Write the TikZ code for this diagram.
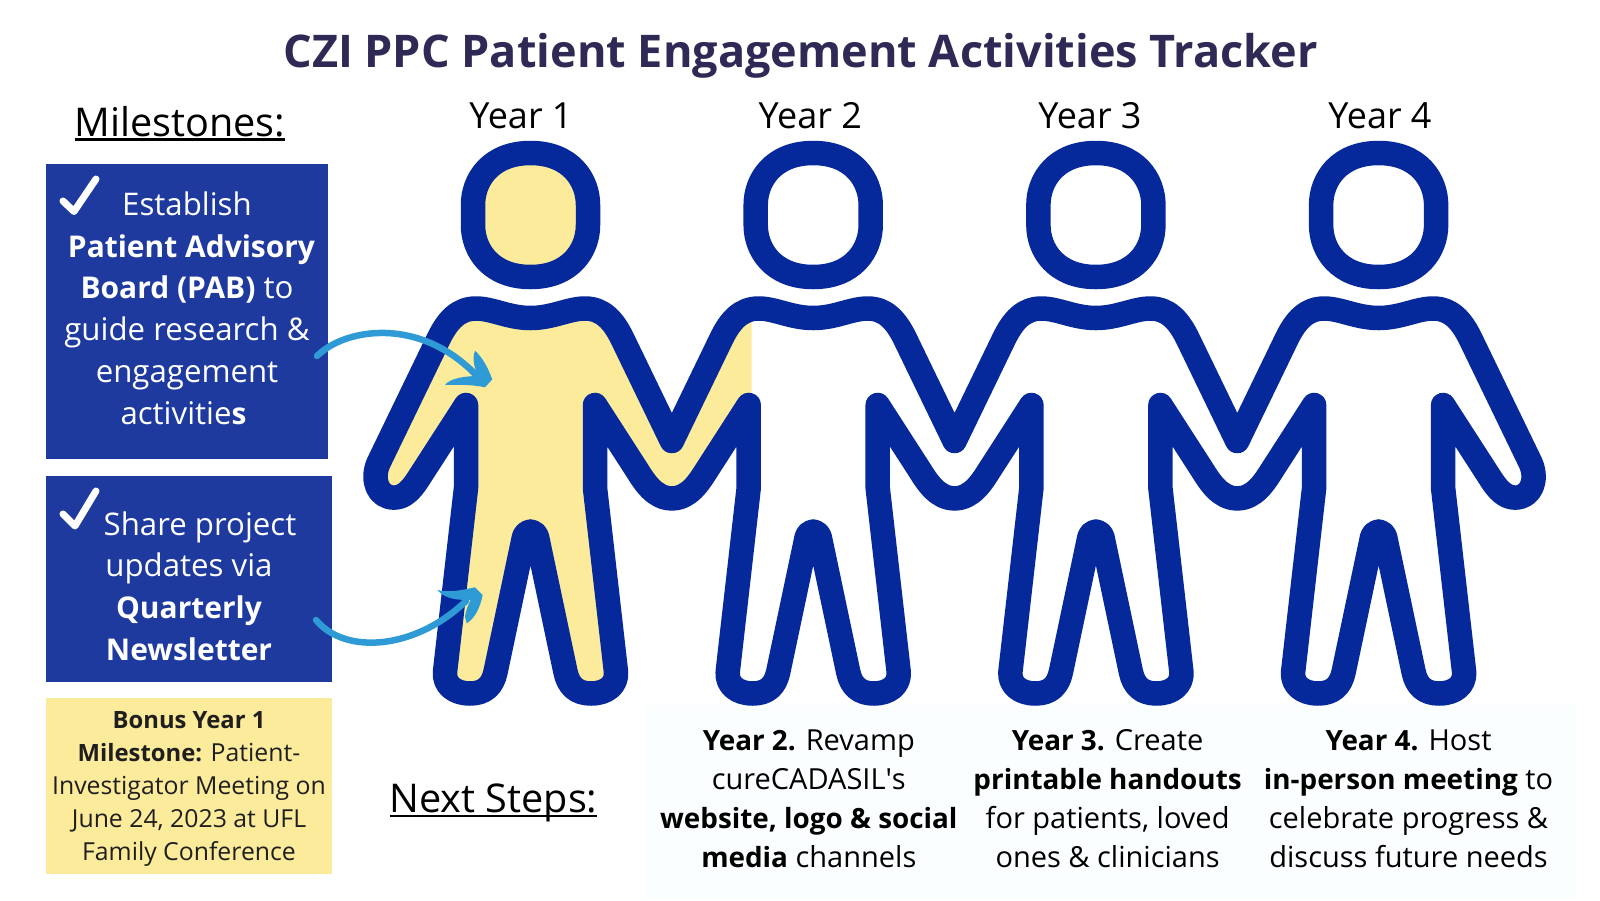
\documentclass[tikz,border=0pt]{standalone}
\usepackage{fontspec}
\setmainfont{Open Sans}[BoldFeatures={Scale=0.96}]
\usetikzlibrary{positioning}
\definecolor{figureblue}{HTML}{05289A}
\definecolor{boxblue}{HTML}{1E3A9F}
\definecolor{paleyellow}{HTML}{FBEB9B}
\definecolor{titleink}{HTML}{2F2A55}
\definecolor{arrowblue}{HTML}{2E9AD6}
\definecolor{palewhite}{HTML}{FAFEFE}
\newlength\ulwidth
\newcommand{\undertext}[1]{\settowidth{\ulwidth}{#1}#1\llap{\rule[-4.5pt]{\ulwidth}{2.4pt}}}
\newcommand{\headring}[1]{(#1,153) .. controls (#1+40,153) and (#1+57.5,180) .. (#1+57.5,205) -- (#1+57.5,225) .. controls (#1+57.5,250) and (#1+40,277) .. (#1,277) .. controls (#1-40,277) and (#1-57.5,250) .. (#1-57.5,225) -- (#1-57.5,205) .. controls (#1-57.5,180) and (#1-40,153) .. (#1,153) -- cycle}
\newcommand{\shouldertop}[1]{-- (#1-92.5,340) .. controls (#1-83,320) and (#1-72,308.5) .. (#1-54.5,308.5) .. controls (#1-38,308.5) and (#1-22,318) .. (#1,318) .. controls (#1+22,318) and (#1+38,308.5) .. (#1+54.5,308.5) .. controls (#1+72,308.5) and (#1+83,320) .. (#1+92.5,340) -- (#1+141.35,441)}
\newcommand{\legpair}[1]{-- (#1+64.5,405) -- (#1+64.5,488) -- (#1+85.5,672) .. controls (#1+86.5,685) and (#1+76,693.5) .. (#1+60.5,693.5) .. controls (#1+46,693.5) and (#1+38,686) .. (#1+35,672) -- (#1+6.5,537) .. controls (#1+5,533) and (#1+2,531.5) .. (#1,531.5) .. controls (#1-2,531.5) and (#1-5,533) .. (#1-6.5,537) -- (#1-35,672) .. controls (#1-38,686) and (#1-46,693.5) .. (#1-60.5,693.5) .. controls (#1-76,693.5) and (#1-86.5,685) .. (#1-85.5,672) -- (#1-64.5,488) -- (#1-64.5,405)}
\newcommand{\handdip}[1]{-- (#1-106.4,470) .. controls (#1-114,482) and (#1-124,498.4) .. (#1-141.35,498.4) .. controls (#1-158.7,498.4) and (#1-168.7,482) .. (#1-176.3,470)}
\newcommand{\chainoutline}{(378.5,463) \shouldertop{530.5} \shouldertop{813.2} \shouldertop{1095.9} \shouldertop{1378.6} -- (1530.6,463) .. controls (1538.1,480) and (1531.1,497.6) .. (1515.1,497.6) .. controls (1505.1,497.6) and (1498.1,490) .. (1491.5,480) \legpair{1378.6} \handdip{1378.6} \legpair{1095.9} \handdip{1095.9} \legpair{813.2} \handdip{813.2} \legpair{530.5} -- (417.6,480) .. controls (411,490) and (404,497.6) .. (394,497.6) .. controls (378,497.6) and (371,480) .. (378.5,463) -- cycle}
\tikzset{
  figureline/.style={draw=figureblue,line width=24.5pt,line join=round},
  milestonebox/.style={rectangle,inner sep=0pt,minimum width=#1},
  yearlabel/.style={font=\fontsize{36}{42}\selectfont,anchor=base,inner sep=0pt},
  headline/.style={font=\fontsize{39.6}{46}\selectfont,anchor=base,inner sep=0pt},
  boxtext/.style={text=white,align=center,inner sep=0pt,font=\fontsize{31.2}{41.8}\selectfont},
  stepstext/.style={text=black,align=center,inner sep=0pt,font=\fontsize{29}{39}\selectfont},
  tickmark/.style={draw=white,line width=7pt,line cap=round,line join=round},
  curvearrow/.style={draw=arrowblue,line width=6.5pt,line cap=round},
}
\begin{document}
\begin{tikzpicture}[x=1pt,y=-1pt]
\useasboundingbox (0,0) rectangle (1600,900);
\fill[palewhite] (645,705) rectangle (1575,900);
% yellow part, year 1 done
\begin{scope}
\clip (0,0) -- (751.7,0) -- (751.7,520) -- (672,520) -- (672,900) -- (0,900) -- cycle;
\fill[paleyellow] \chainoutline;
\end{scope}
\fill[paleyellow] \headring{530.5};
\draw[figureline] \chainoutline;
\foreach \cx in {530.5,813.2,1095.9,1378.6}
  \draw[figureline] \headring{\cx};
%
\node (title) at (800.5,67.5) [anchor=base,inner sep=0pt,text=titleink,font=\fontsize{46.9}{52}\selectfont\bfseries] {CZI PPC Patient Engagement Activities Tracker};
\node (milestones) at (180,136) [headline] {\undertext{Milestones:}};
\node (yearA) at (521,128.5) [yearlabel] {Year 1};
\node (yearB) at (810.3,128.5) [yearlabel] {Year 2};
\node (yearC) at (1090,128.5) [yearlabel] {Year 3};
\node (yearD) at (1380,128.5) [yearlabel] {Year 4};
%
\node (boxA) at (186.8,311.5) [milestonebox=281.5pt,minimum height=295pt,fill=boxblue] {};
\node (boxB) at (189,579) [milestonebox=286pt,minimum height=206pt,fill=boxblue] {};
\node (boxC) at (189,785.7) [milestonebox=286pt,minimum height=176pt,fill=paleyellow] {};
\node (textA) at (187,308) [boxtext] {Establish\\\hspace*{9pt}\textbf{Patient Advisory}\\\textbf{Board (PAB)} to\\guide research \&\\engagement\\activitie\textbf{s}\hspace*{7pt}};
\node (textB) at (189,586) [boxtext] {\hspace*{22pt}Share project\\updates via\\\textbf{Quarterly}\\\textbf{Newsletter}};
\node (textC) at (189,788.7) [align=center,inner sep=0pt,text=black!88,font=\fontsize{24.8}{33}\selectfont] {\textbf{Bonus Year 1}\\\textbf{Milestone:} Patient-\\Investigator Meeting on\\June 24, 2023 at UFL\\Family Conference};
\draw[tickmark] (63,201) -- (74,211.5) -- (96,179);
\draw[tickmark] (63,514) -- (75,526) -- (96,491);
%
\node (nextsteps) at (493.5,812.5) [headline] {\undertext{Next Steps:}};
\node (stepB) at (808.8,799) [stepstext] {\textbf{Year 2.} Revamp\\cureCADASIL\textquotesingle s\\\textbf{website, logo \& social}\\\textbf{media} channels};
\node (stepC) at (1107.6,799) [stepstext] {\textbf{Year 3.} Create\\\textbf{printable handouts}\\for patients, loved\\ones \& clinicians};
\node (stepD) at (1408.5,799) [stepstext] {\textbf{Year 4.} Host\\\textbf{in-person meeting} to\\celebrate progress \&\\discuss future needs};
% hand drawn arrows
\coordinate (arrowAstart) at (317,356);
\coordinate (arrowAend) at (477,376);
\coordinate (arrowBstart) at (316,620);
\coordinate (arrowBend) at (466,601);
\draw[curvearrow] (arrowAstart) .. controls (345,328) and (420,316) .. (arrowAend);
\fill[arrowblue] (475,350.7) .. controls (483,358) and (488,368) .. (492.3,379.3) -- (485,387.3) .. controls (470,384) and (456,385) .. (445,385) .. controls (450,378) and (466,376) .. (478.3,376) .. controls (474,368) and (472,358) .. (475,350.7) -- cycle;
\draw[curvearrow] (arrowBstart) .. controls (345,655) and (415,650) .. (arrowBend);
\fill[arrowblue] (437.3,590) .. controls (450,593) and (462,590) .. (475,587.3) -- (482.7,595) .. controls (480,608) and (475,618) .. (466.7,623.3) -- (465,616.7) .. controls (466,610) and (468,605) .. (470.7,600) .. controls (460,600) and (446,600) .. (437.3,590) -- cycle;
\end{tikzpicture}
\end{document}
